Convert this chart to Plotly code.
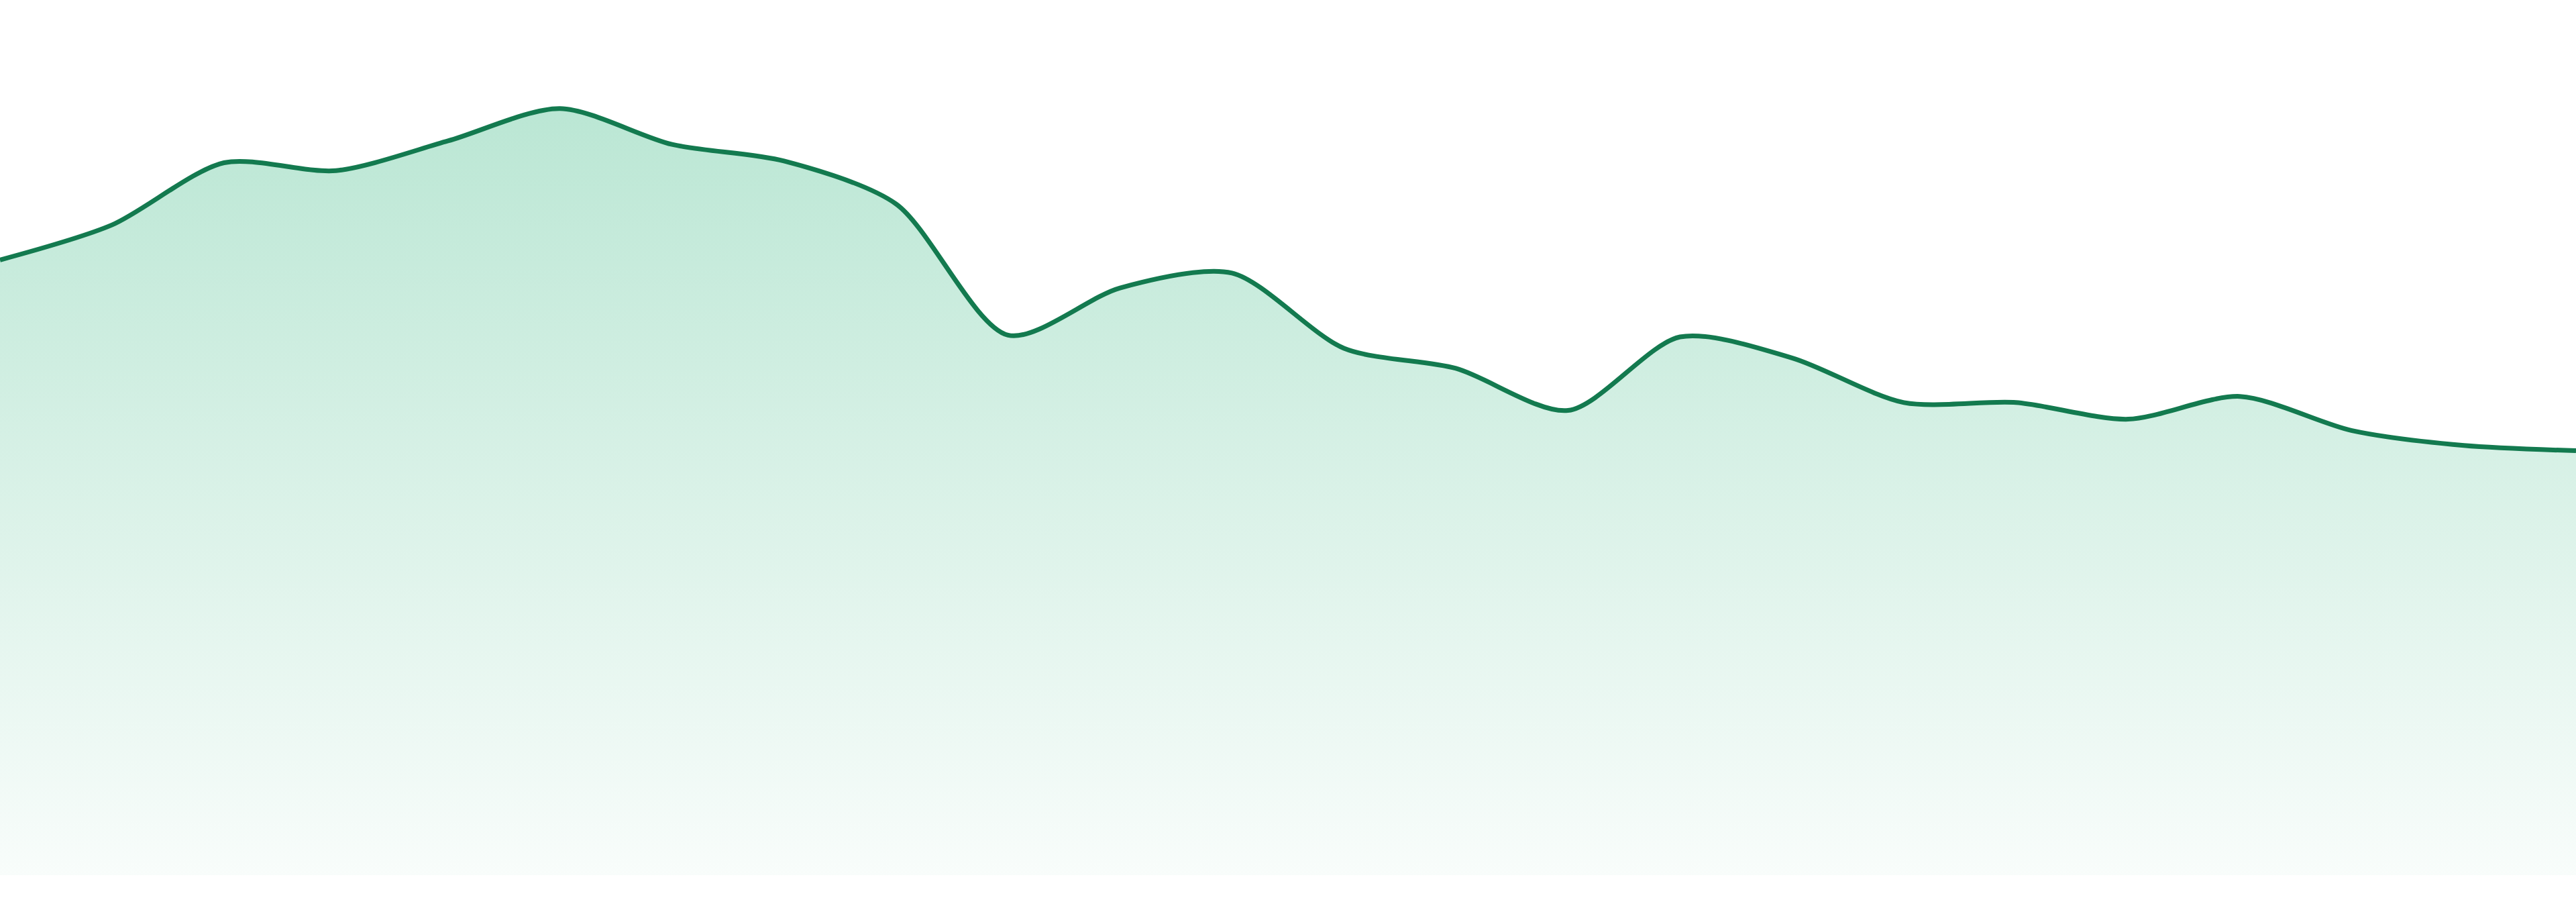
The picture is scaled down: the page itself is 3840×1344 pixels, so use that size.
"""Smoothed area line with a vertical gradient fill."""

import plotly.graph_objects as go

# 24 evenly spaced samples, values on a 0-100 scale
steps = list(range(24))
values = [
    70.3, 74.3, 81.4, 80.5, 83.9, 87.6, 83.5, 81.6, 76.7, 61.7, 67.1, 68.8,
    60.2, 57.9, 53.1, 61.5, 59.1, 54.0, 54.0, 52.1, 54.7, 50.8, 49.1, 48.5,
]

LINE_COLOR = "#137a4f"

fig = go.Figure()

fig.add_trace(go.Scatter(
    x=steps,
    y=values,
    mode="lines",
    line=dict(color=LINE_COLOR, width=7, shape="spline", smoothing=0.8),
    fill="tozeroy",
    fillgradient=dict(
        type="vertical",
        start=0,
        stop=max(values),
        colorscale=[
            [0, "rgba(34,176,116,0.03)"],
            [1, "rgba(34,176,116,0.31)"],
        ],
    ),
    hoverinfo="skip",
    showlegend=False,
))

fig.update_xaxes(visible=False, range=[0, len(steps) - 1], fixedrange=True)
fig.update_yaxes(visible=False, range=[0, 100], fixedrange=True)

fig.update_layout(
    width=3840,
    height=1344,
    margin=dict(l=0, r=0, t=0, b=40),
    paper_bgcolor="white",
    plot_bgcolor="white",
)

# drop the default body margin so the chart sits flush with the window
fig.write_html(
    "out.html",
    config={"displayModeBar": False},
    post_script="document.body.style.margin = '0';",
)
